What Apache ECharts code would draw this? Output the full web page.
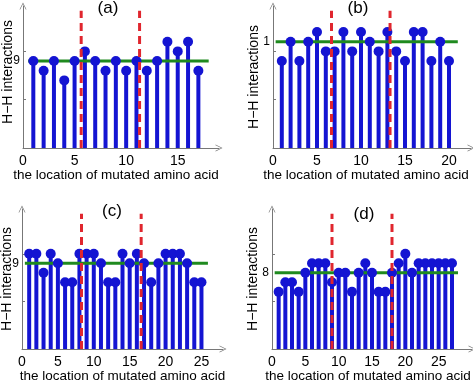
<!DOCTYPE html>
<html>
<head>
<meta charset="utf-8">
<script src="https://cdn.jsdelivr.net/npm/echarts@6/dist/echarts.min.js"></script>
<style>
  html, body { margin: 0; padding: 0; background: #fff; }
  #main { width: 473px; height: 382px; }
</style>
</head>
<body>
<div id="main"></div>
<script>
// H-H interactions per mutated position, one array per panel
var valsA = [9, 8, 9, 7, 9, 10, 9, 8, 9, 8, 9, 8, 9, 11, 10, 11, 8];
var valsB = [9, 11, 9, 11, 12, 10, 10, 12, 10, 12, 11, 10, 12, 10, 9, 12, 12, 9, 11, 9];
var valsC = [10, 10, 8, 10, 9, 7, 7, 10, 10, 10, 9, 7, 7, 10, 9, 10, 9, 7, 9, 10, 10, 10, 9, 7, 7];
var valsD = [6, 7, 7, 6, 8, 9, 9, 9, 7, 8, 8, 6, 8, 9, 8, 6, 6, 8, 9, 10, 8, 9, 9, 9, 9, 9, 9];

var meanVals = [9, 11, 9, 8];          // green reference level
var meanLabels = ['9', '1', '9', '8']; // text shown on the y axis
var cutsA = [5.64, 11.3];              // red dashed boundaries
var cutsB = [6.65, 13.3];
var cutsC = [8.29, 16.6];
var cutsD = [9.0, 18.0];
var panelTitles = ['(a)', '(b)', '(c)', '(d)'];
var xTickVals = [0, 5, 10, 15, 20, 25];
var yTickVals = [5, 10];
var yMax = 14.7;

var FONT = '"Liberation Sans", Arial, sans-serif';
var BLUE = '#1414d2';
var GREEN = '#1f8a1f';
var RED = '#e0262e';
var AXIS = '#777';
var ARROW = 'path://M0,10 L5,0 L10,10 L9,10 L5,2 L1,10 Z';

var panels = [
  { vals: valsA, cuts: cutsA, xMax: 19,   grid: { left: 23,  top: 6,   width: 196, height: 142 }, green: [0.5, 18],   yGap: 8,  yPad: 10, xPad: 10, title: [108, 0] },
  { vals: valsB, cuts: cutsB, xMax: 22.5, grid: { left: 273, top: 6,   width: 198, height: 142 }, green: [0.3, 21],   yGap: 12, yPad: 0,  xPad: 12, title: [358, 0] },
  { vals: valsC, cuts: cutsC, xMax: 28,   grid: { left: 22,  top: 209, width: 201, height: 140 }, green: [0.4, 25.9], yGap: 8,  yPad: 0,  xPad: 0,  title: [112, 203] },
  { vals: valsD, cuts: cutsD, xMax: 30,   grid: { left: 272, top: 209, width: 200, height: 140 }, green: [0.4, 27.9], yGap: 12, yPad: 0,  xPad: 8,  title: [364, 206] }
];

var grids = [], xAxes = [], yAxes = [], series = [], titles = [];

panels.forEach(function(p, i) {
  var g = p.grid;
  g.outerBoundsMode = 'none';
  g.containLabel = false;
  grids.push(g);

  xAxes.push({
    gridIndex: i, type: 'value', min: 0, max: p.xMax,
    splitLine: { show: false },
    axisLine: { lineStyle: { color: AXIS, width: 1 }, symbol: ['none', ARROW], symbolSize: [7, 8] },
    axisTick: { show: false },
    axisLabel: {
      customValues: xTickVals.filter(function(v) { return v <= p.xMax; }),
      color: '#000', fontSize: 14, fontFamily: FONT, margin: 6
    },
    name: 'the location of mutated amino acid',
    nameLocation: 'middle', nameGap: 20, nameMoveOverlap: false,
    nameTextStyle: { color: '#000', fontSize: 13.5, fontFamily: FONT, padding: [0, p.xPad, 0, 0] }
  });

  yAxes.push({
    gridIndex: i, type: 'value', min: 0, max: yMax,
    splitLine: { show: false },
    axisLine: { lineStyle: { color: AXIS, width: 1 }, symbol: ['none', ARROW], symbolSize: [7, 8] },
    axisTick: { inside: true, length: 3, customValues: yTickVals, lineStyle: { color: AXIS } },
    axisLabel: {
      customValues: [meanVals[i]],
      formatter: function() { return meanLabels[i]; },
      color: '#000', fontSize: 12, fontFamily: FONT, margin: 3
    },
    name: 'H\u2212H interactions',
    nameLocation: 'middle', nameGap: p.yGap, nameMoveOverlap: false,
    nameTextStyle: { color: '#000', fontSize: 14, fontFamily: FONT, padding: [0, 0, 0, p.yPad] }
  });

  var pts = p.vals.map(function(v, k) { return [k + 1, v]; });

  // stems
  series.push({
    type: 'bar', xAxisIndex: i, yAxisIndex: i, data: pts,
    barWidth: 4, itemStyle: { color: BLUE }, z: 2, silent: true
  });
  // mean level
  series.push({
    type: 'line', xAxisIndex: i, yAxisIndex: i,
    data: [[p.green[0], meanVals[i]], [p.green[1], meanVals[i]]],
    symbol: 'none', lineStyle: { color: GREEN, width: 3 }, z: 3, silent: true
  });
  // stem heads
  series.push({
    type: 'scatter', xAxisIndex: i, yAxisIndex: i, data: pts,
    symbol: 'circle', symbolSize: 10, itemStyle: { color: BLUE, opacity: 1 }, z: 4, silent: true
  });
  // boundaries
  p.cuts.forEach(function(c) {
    series.push({
      type: 'line', xAxisIndex: i, yAxisIndex: i,
      data: [[c, 0], [c, 14.2]],
      symbol: 'none', lineStyle: { color: RED, width: 3, type: [8, 5] }, z: 5, silent: true
    });
  });

  titles.push({
    text: panelTitles[i], left: p.title[0], top: p.title[1], textAlign: 'center', padding: 0,
    textStyle: { color: '#000', fontSize: 17, fontWeight: 'normal', fontFamily: FONT }
  });
});

var chart = echarts.init(document.getElementById('main'), null, { renderer: 'canvas' });
chart.setOption({
  animation: false,
  backgroundColor: '#fff',
  title: titles,
  grid: grids,
  xAxis: xAxes,
  yAxis: yAxes,
  series: series
});
</script>
</body>
</html>
